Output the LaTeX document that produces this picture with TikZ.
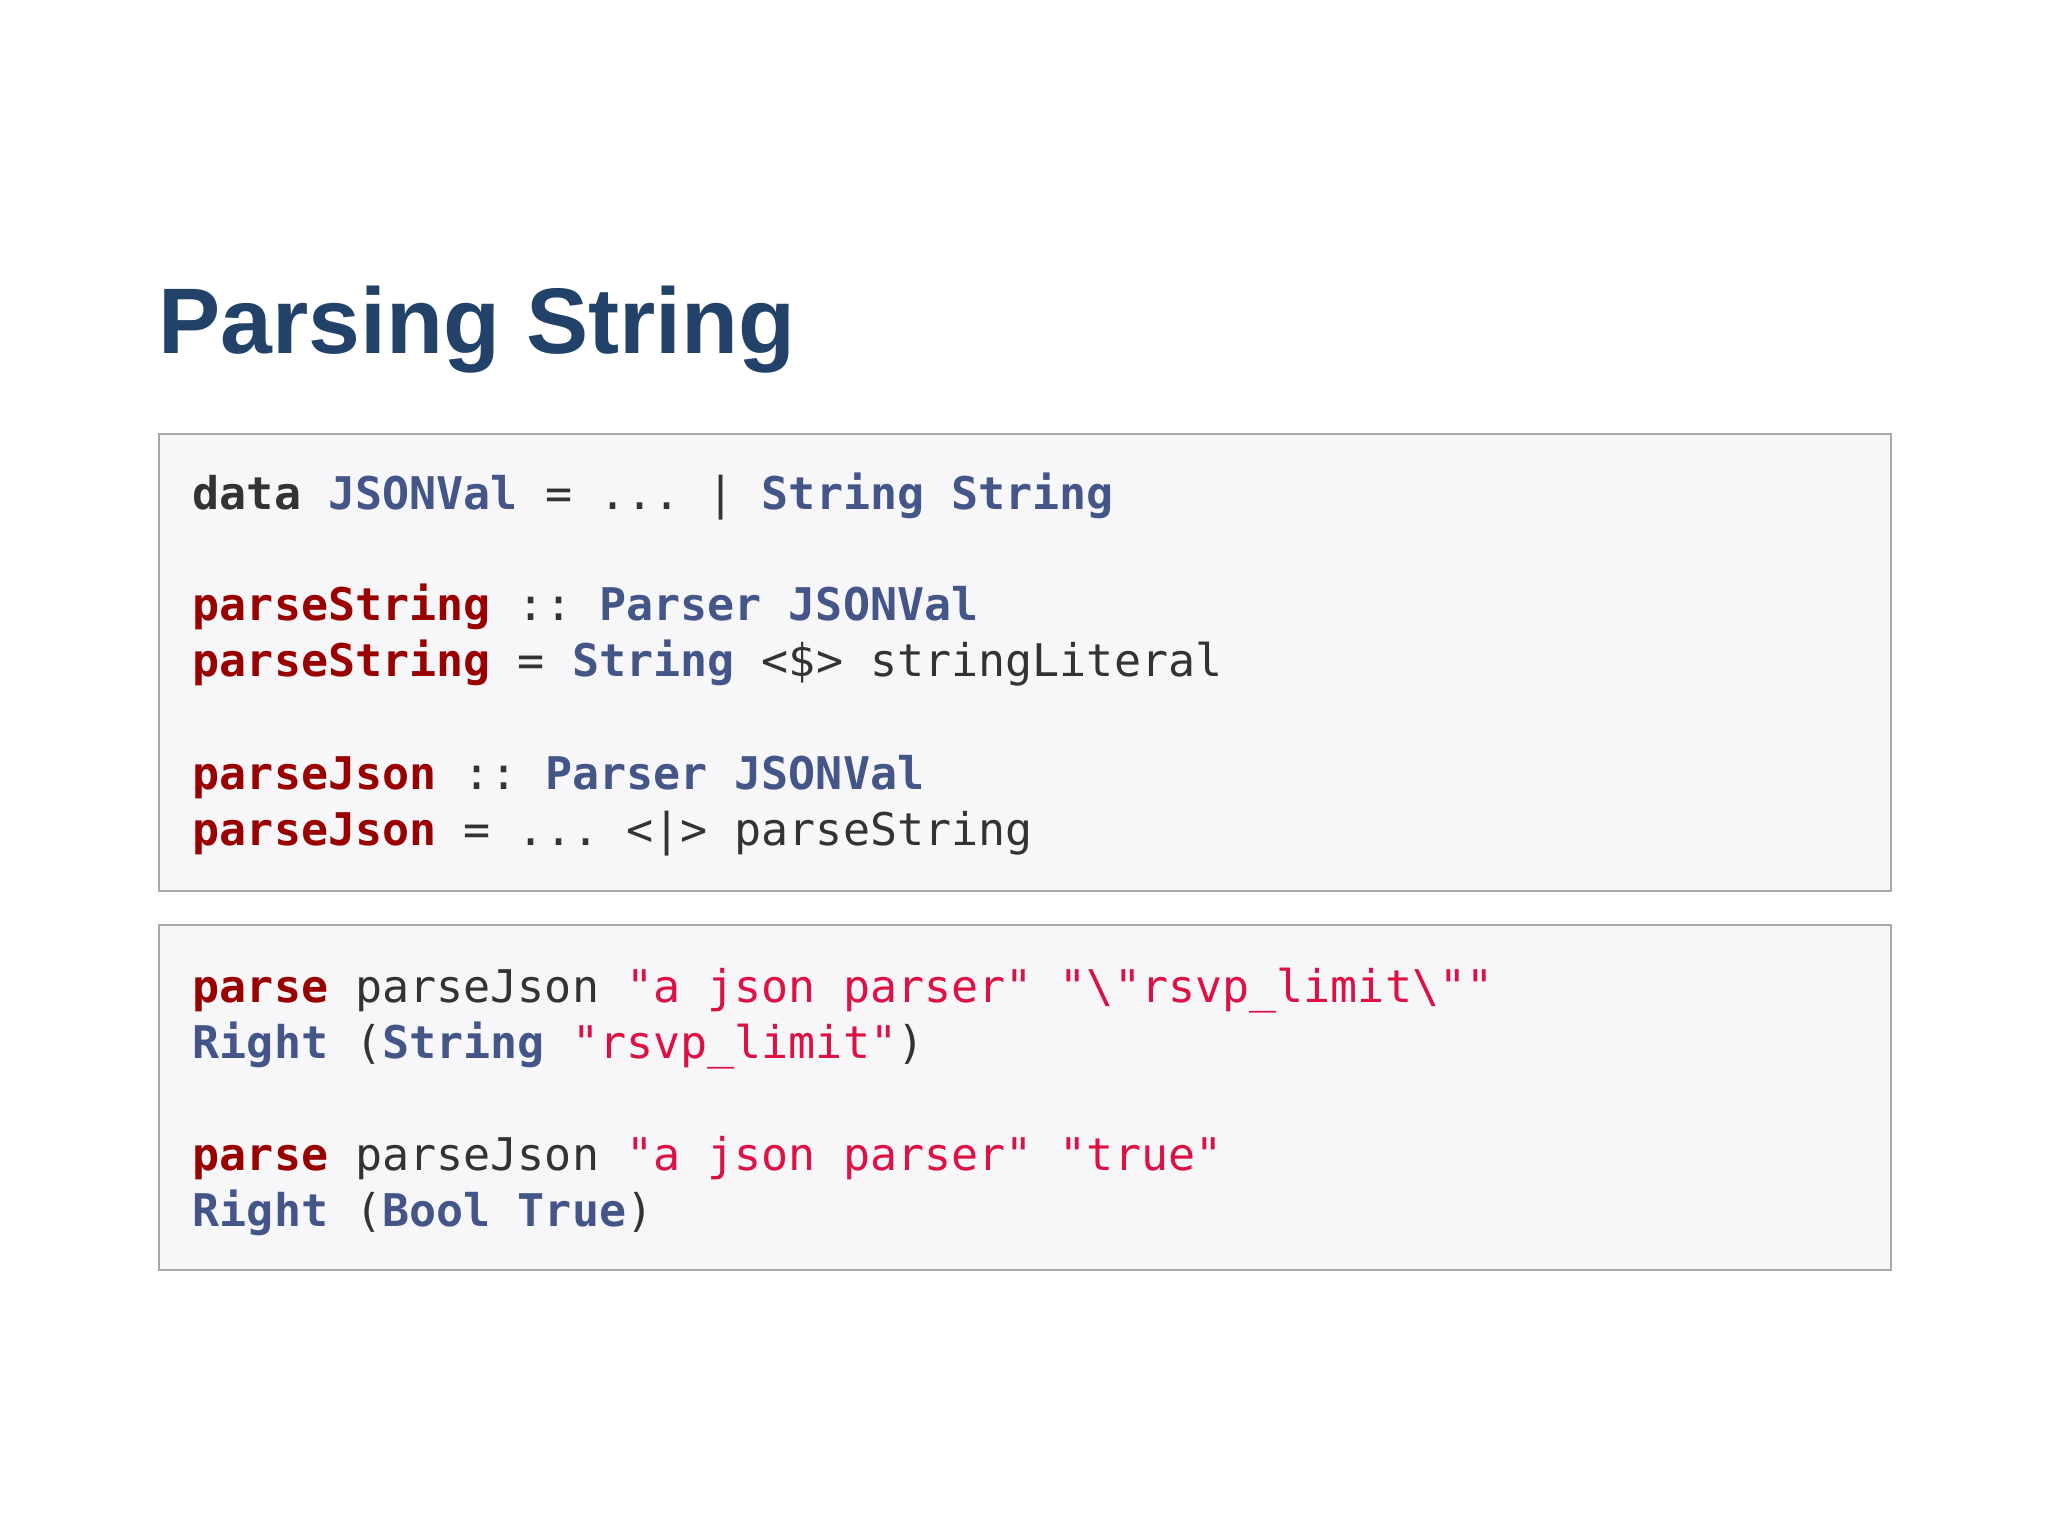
\documentclass[tikz,border=0pt]{standalone}
\usepackage{fontspec}
\setmainfont{Liberation Sans}
\setmonofont{DejaVu Sans Mono}
\definecolor{titleblue}{HTML}{22426A}
\definecolor{kw}{HTML}{990000}
\definecolor{ty}{HTML}{445588}
\definecolor{st}{HTML}{DD1144}
\definecolor{tx}{HTML}{333333}
\definecolor{boxfill}{HTML}{F7F7F9}
\definecolor{boxline}{HTML}{A8A8A8}
\newcommand{\K}[1]{\textcolor{kw}{\bfseries #1}}
\newcommand{\T}[1]{\textcolor{ty}{\bfseries #1}}
\newcommand{\Sg}[1]{\textcolor{st}{#1}}
\begin{document}
\begin{tikzpicture}[x=0.01cm,y=-0.01cm,
  codebox/.style={draw=boxline,line width=0.8pt,fill=boxfill},
  code/.style={anchor=base west,inner sep=0pt,font=\fontsize{12.8}{15}\ttfamily,text=tx}]
\useasboundingbox (0,0) rectangle (2048,1536);
\node[anchor=base west,inner sep=0pt,font=\fontsize{26.5}{32}\bfseries,text=titleblue] (title) at (158,353) {Parsing String};
\draw[codebox] (159,434) rectangle (1891,891);
\draw[codebox] (159,925) rectangle (1891,1270);
\node[code] (l1) at (192,509) {\textbf{data} \T{JSONVal} = ... | \T{String String}};
\node[code] (l2) at (192,620) {\K{parseString} :: \T{Parser JSONVal}};
\node[code] (l3) at (192,676) {\K{parseString} = \T{String} <\$> stringLiteral};
\node[code] (l4) at (192,789) {\K{parseJson} :: \T{Parser JSONVal}};
\node[code] (l5) at (192,845) {\K{parseJson} = ... <|> parseString};
\node[code] (m1) at (192,1002) {\K{parse} parseJson \Sg{"a json parser" "\textbackslash"rsvp\_limit\textbackslash""}};
\node[code] (m2) at (192,1058) {\T{Right} (\T{String} \Sg{"rsvp\_limit"})};
\node[code] (m3) at (192,1170) {\K{parse} parseJson \Sg{"a json parser" "true"}};
\node[code] (m4) at (192,1226) {\T{Right} (\T{Bool True})};
\end{tikzpicture}
\end{document}
